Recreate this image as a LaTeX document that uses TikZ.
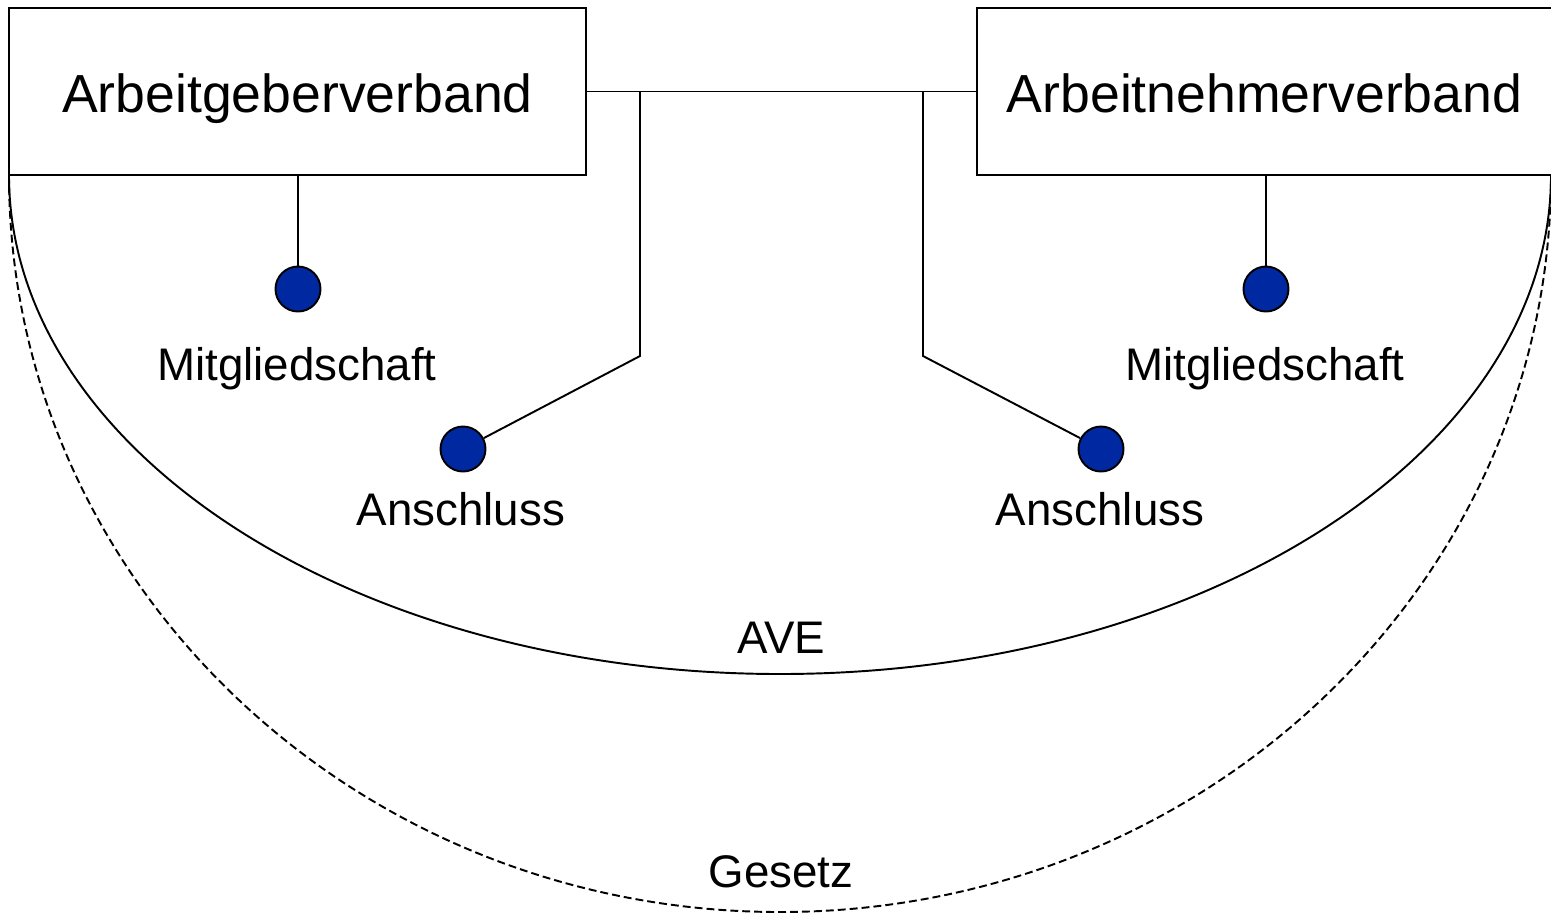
\documentclass[tikz,border=0pt]{standalone}
\usepackage{fontspec}
\setmainfont{Liberation Sans}
\definecolor{dotblue}{RGB}{0,40,160}
\begin{document}
\begin{tikzpicture}[x=0.02cm,y=-0.02cm,
  line width=1.1pt,
  bigbox/.style={draw,minimum width=577*0.02cm,minimum height=167*0.02cm,inner sep=0pt,text height=0.82cm,text depth=0pt,font=\fontsize{30.5}{36}\selectfont},
  dot/.style={circle,draw,fill=dotblue,minimum size=45*0.02cm,inner sep=0pt,line width=1.1pt},
  lbl/.style={font=\fontsize{26}{30}\selectfont,inner sep=0pt,anchor=base},
  dashedline/.style={dash pattern=on 4.5pt off 2.3pt}]
\useasboundingbox (0,0) rectangle (1551,914);
% ellipses
\draw[dashedline] (9,175) arc[start angle=180,end angle=0,x radius=771,y radius=737];
\draw (9,175) arc[start angle=180,end angle=0,x radius=771,y radius=499];
% boxes
\node[bigbox,fill=white] (lbox) at (297.5,91.5) {Arbeitgeberverband};
\node[bigbox,fill=white,minimum width=575*0.02cm] (rbox) at (1264.5,91.5) {Arbeitnehmerverband};
% dots
\node[dot] (lm) at (298,289) {};
\node[dot] (la) at (463,449) {};
\node[dot] (ra) at (1101,449) {};
\node[dot] (rm) at (1266,289) {};
% labels
\node[lbl] (lmt) at (297,380) {Mitgliedschaft};
\node[lbl] (lat) at (461,525) {Anschluss};
\node[lbl] (rat) at (1100,525) {Anschluss};
\node[lbl] (rmt) at (1265,380) {Mitgliedschaft};
\node[lbl] (ave) at (781,653) {AVE};
\node[lbl] (ges) at (781,887) {Gesetz};
% connectors
\draw (lbox.east) -- (rbox.west);
\coordinate (lj) at (640,91.5);
\coordinate (lk) at (640,356);
\coordinate (rj) at (923,91.5);
\coordinate (rk) at (923,356);
\draw (lj) -- (lk) -- (la);
\draw (rj) -- (rk) -- (ra);
\draw (lbox.south -| lm) -- (lm);
\draw (rbox.south -| rm) -- (rm);
\end{tikzpicture}
\end{document}
